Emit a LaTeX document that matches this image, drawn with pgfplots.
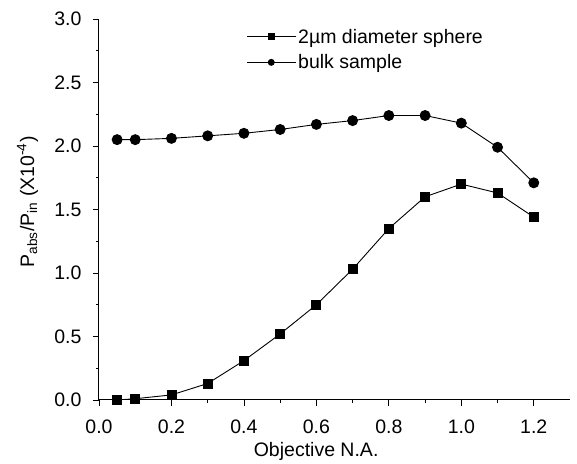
\documentclass[border=0pt]{standalone}
\usepackage{fontspec}
\setmainfont{Liberation Sans}
\usepackage{pgfplots}
\pgfplotsset{compat=1.18}

\begin{document}
\begin{tikzpicture}
\begin{axis}[
    name=ax,
    scale only axis,
    width=471pt, height=381pt,
    font=\fontsize{19.5}{23}\selectfont,
    axis x line*=bottom, axis y line*=left,
    axis line style={-, line width=1pt},
    tick align=outside,
    major tick length=6pt, minor tick length=3pt,
    tick style={line width=0.8pt, black},
    xmin=0, xmax=1.3, ymin=0, ymax=3,
    xtick={0,0.2,...,1.2}, minor xtick={0.1,0.3,...,1.1},
    ytick={0,0.5,...,3}, minor ytick={0.25,0.75,...,2.75},
    /pgf/number format/assume math mode=true,
    xticklabel style={yshift=-10pt, /pgf/number format/.cd, fixed, fixed zerofill, precision=1},
    yticklabel style={xshift=-8pt, /pgf/number format/.cd, fixed, fixed zerofill, precision=1},
    xlabel={Objective N.A.},
    ylabel={P\textsubscript{abs}/P\textsubscript{in} (X10\textsuperscript{-4})},
    xlabel style={at={(axis description cs:0.461,-0.1496)}, anchor=base},
    ylabel style={at={(axis description cs:-0.138,0.52)}, anchor=base},
    legend style={draw=none, fill=none, at={(0.306,0.985)}, anchor=north west,
        row sep=6pt, font=\fontsize{19.5}{23}\selectfont},
    legend cell align=left,
    legend image code/.code={
        \draw[#1] (0pt,0pt) -- (49pt,0pt);
        \draw[#1, mark size=3pt, only marks] plot coordinates {(24.5pt,0pt)};
    },
]
% 2 um sphere
\addplot[black, line width=0.9pt, mark=square*, mark size=4.5pt] coordinates {
    (0.05,0.00) (0.1,0.01) (0.2,0.04) (0.3,0.13) (0.4,0.31) (0.5,0.52)
    (0.6,0.75) (0.7,1.03) (0.8,1.35) (0.9,1.60) (1.0,1.70) (1.1,1.63) (1.2,1.44) };
\addlegendentry{2\textmu m diameter sphere}
% bulk sample
\addplot[black, line width=0.9pt, mark=*, mark size=5pt] coordinates {
    (0.05,2.05) (0.1,2.05) (0.2,2.06) (0.3,2.08) (0.4,2.10) (0.5,2.13)
    (0.6,2.17) (0.7,2.20) (0.8,2.24) (0.9,2.24) (1.0,2.18) (1.1,1.99) (1.2,1.71) };
\addlegendentry{bulk sample}
\end{axis}
\pgfresetboundingbox
\path ([shift={(-99pt,-64pt)}]ax.south west) rectangle ([shift={(7pt,19pt)}]ax.north east);
\end{tikzpicture}
\end{document}
